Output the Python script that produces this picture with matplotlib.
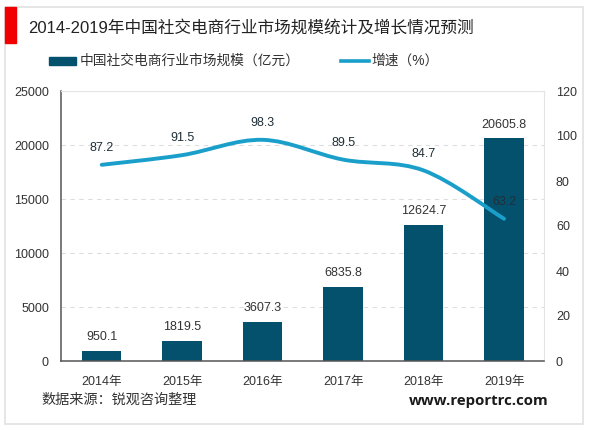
import matplotlib.pyplot as plt
import numpy as np
from matplotlib.patches import Rectangle, PathPatch
from matplotlib.path import Path

plt.rcParams['font.family'] = ['Liberation Sans', 'Noto Sans CJK SC']

years = ['2014年', '2015年', '2016年', '2017年', '2018年', '2019年']
market_size = [950.1, 1819.5, 3607.3, 6835.8, 12624.7, 20605.8]
growth = [87.2, 91.5, 98.3, 89.5, 84.7, 63.2]
left_ticks = [0, 5000, 10000, 15000, 20000, 25000]
right_ticks = [0, 20, 40, 60, 80, 100, 120]

bar_color = '#04516d'
line_color = '#1a9fcb'
text_color = '#333333'

W, H = 600, 430


def fx(px):
    return px / W


def fy(py):
    return 1 - py / H


# smooth line like the office chart, bezier handles from neighbouring points
def smooth_path(xs, ys, k=1 / 6):
    verts = [(xs[0], ys[0])]
    codes = [Path.MOVETO]
    n = len(xs)
    for i in range(n - 1):
        x0, y0 = (xs[max(i - 1, 0)], ys[max(i - 1, 0)])
        x1, y1 = (xs[i], ys[i])
        x2, y2 = (xs[i + 1], ys[i + 1])
        x3, y3 = (xs[min(i + 2, n - 1)], ys[min(i + 2, n - 1)])
        verts += [(x1 + (x2 - x0) * k, y1 + (y2 - y0) * k),
                  (x2 - (x3 - x1) * k, y2 - (y3 - y1) * k),
                  (x2, y2)]
        codes += [Path.CURVE4] * 3
    return Path(verts, codes)


fig = plt.figure(figsize=(6, 4.3), dpi=100)

# outer frame, has to stay behind the axes
fig.add_artist(Rectangle((fx(5), fy(424)), 578 / W, 417 / H, facecolor='white',
                         edgecolor='#e2e2e2', linewidth=1.2, transform=fig.transFigure, zorder=-1))

ax = fig.add_axes([fx(61.5), fy(361), 482.8 / W, (361 - 91) / H])
ax.patch.set_alpha(0)
x = np.arange(len(years))
ax.bar(x, market_size, width=0.49, color=bar_color, zorder=2)
ax.set_xlim(-0.5, 5.5)
ax.set_ylim(0, 25000)
ax.set_xticks(x)
ax.set_xticklabels(years, fontsize=9, color=text_color)
ax.set_yticks(left_ticks)
ax.tick_params(axis='y', labelsize=9, length=0, colors=text_color, pad=9)
ax.tick_params(axis='x', length=0, pad=11)
ax.grid(axis='y', color='#dddddd', linewidth=0.8, linestyle=(0, (4, 4)), zorder=0)
ax.spines['top'].set_color('#e4e4e4')
ax.spines['right'].set_color('#e4e4e4')
ax.spines['left'].set_color('#555555')
ax.spines['bottom'].set_color('#555555')
ax.spines['left'].set_linewidth(1.1)
ax.spines['bottom'].set_linewidth(1.1)

for i, v in enumerate(market_size):
    ax.annotate(f'{v:.1f}', (i, v), xytext=(0, 10), textcoords='offset points',
                ha='center', va='center', fontsize=9, color=text_color)

ax2 = ax.twinx()
ax2.add_patch(PathPatch(smooth_path(list(x), growth), facecolor='none', edgecolor=line_color,
                        linewidth=2.8, capstyle='round', zorder=3))
ax2.set_ylim(0, 120)
ax2.set_yticks(right_ticks)
ax2.tick_params(axis='y', labelsize=9, length=0, colors=text_color, pad=8.4)
for s in ax2.spines.values():
    s.set_visible(False)
for i, v in enumerate(growth):
    ax2.annotate(f'{v:.1f}', (i, v), xytext=(0, 12), textcoords='offset points',
                 ha='center', va='center', fontsize=9, color='#1f2f38')

fig.add_artist(Rectangle((fx(5), fy(43)), 10.5 / W, 36 / H, color='#f00000', transform=fig.transFigure))
fig.text(fx(28), fy(28), '2014-2019年中国社交电商行业市场规模统计及增长情况预测',
         fontsize=12.0, va='center', color='#222222')
fig.add_artist(Rectangle((fx(49), fy(65)), 27 / W, 8 / H, color=bar_color, transform=fig.transFigure))
fig.text(fx(80), fy(61), '中国社交电商行业市场规模（亿元）', fontsize=9.9, va='center', color=text_color)
fig.add_artist(plt.Line2D([fx(341), fx(369)], [fy(61), fy(61)], color=line_color, linewidth=2.6,
                          transform=fig.transFigure))
fig.text(fx(371), fy(61), '增速（%）', fontsize=9.9, va='center', color=text_color)
fig.text(fx(41.5), fy(400), '数据来源：锐观咨询整理', fontsize=10.2, va='center', color=text_color)
fig.text(fx(549), fy(401), 'www.reportrc.com', fontsize=10.8, fontweight='bold', va='center', ha='right',
         color='#1a1a1a', family='Open Sans')

fig.savefig('out.png', dpi=100)
